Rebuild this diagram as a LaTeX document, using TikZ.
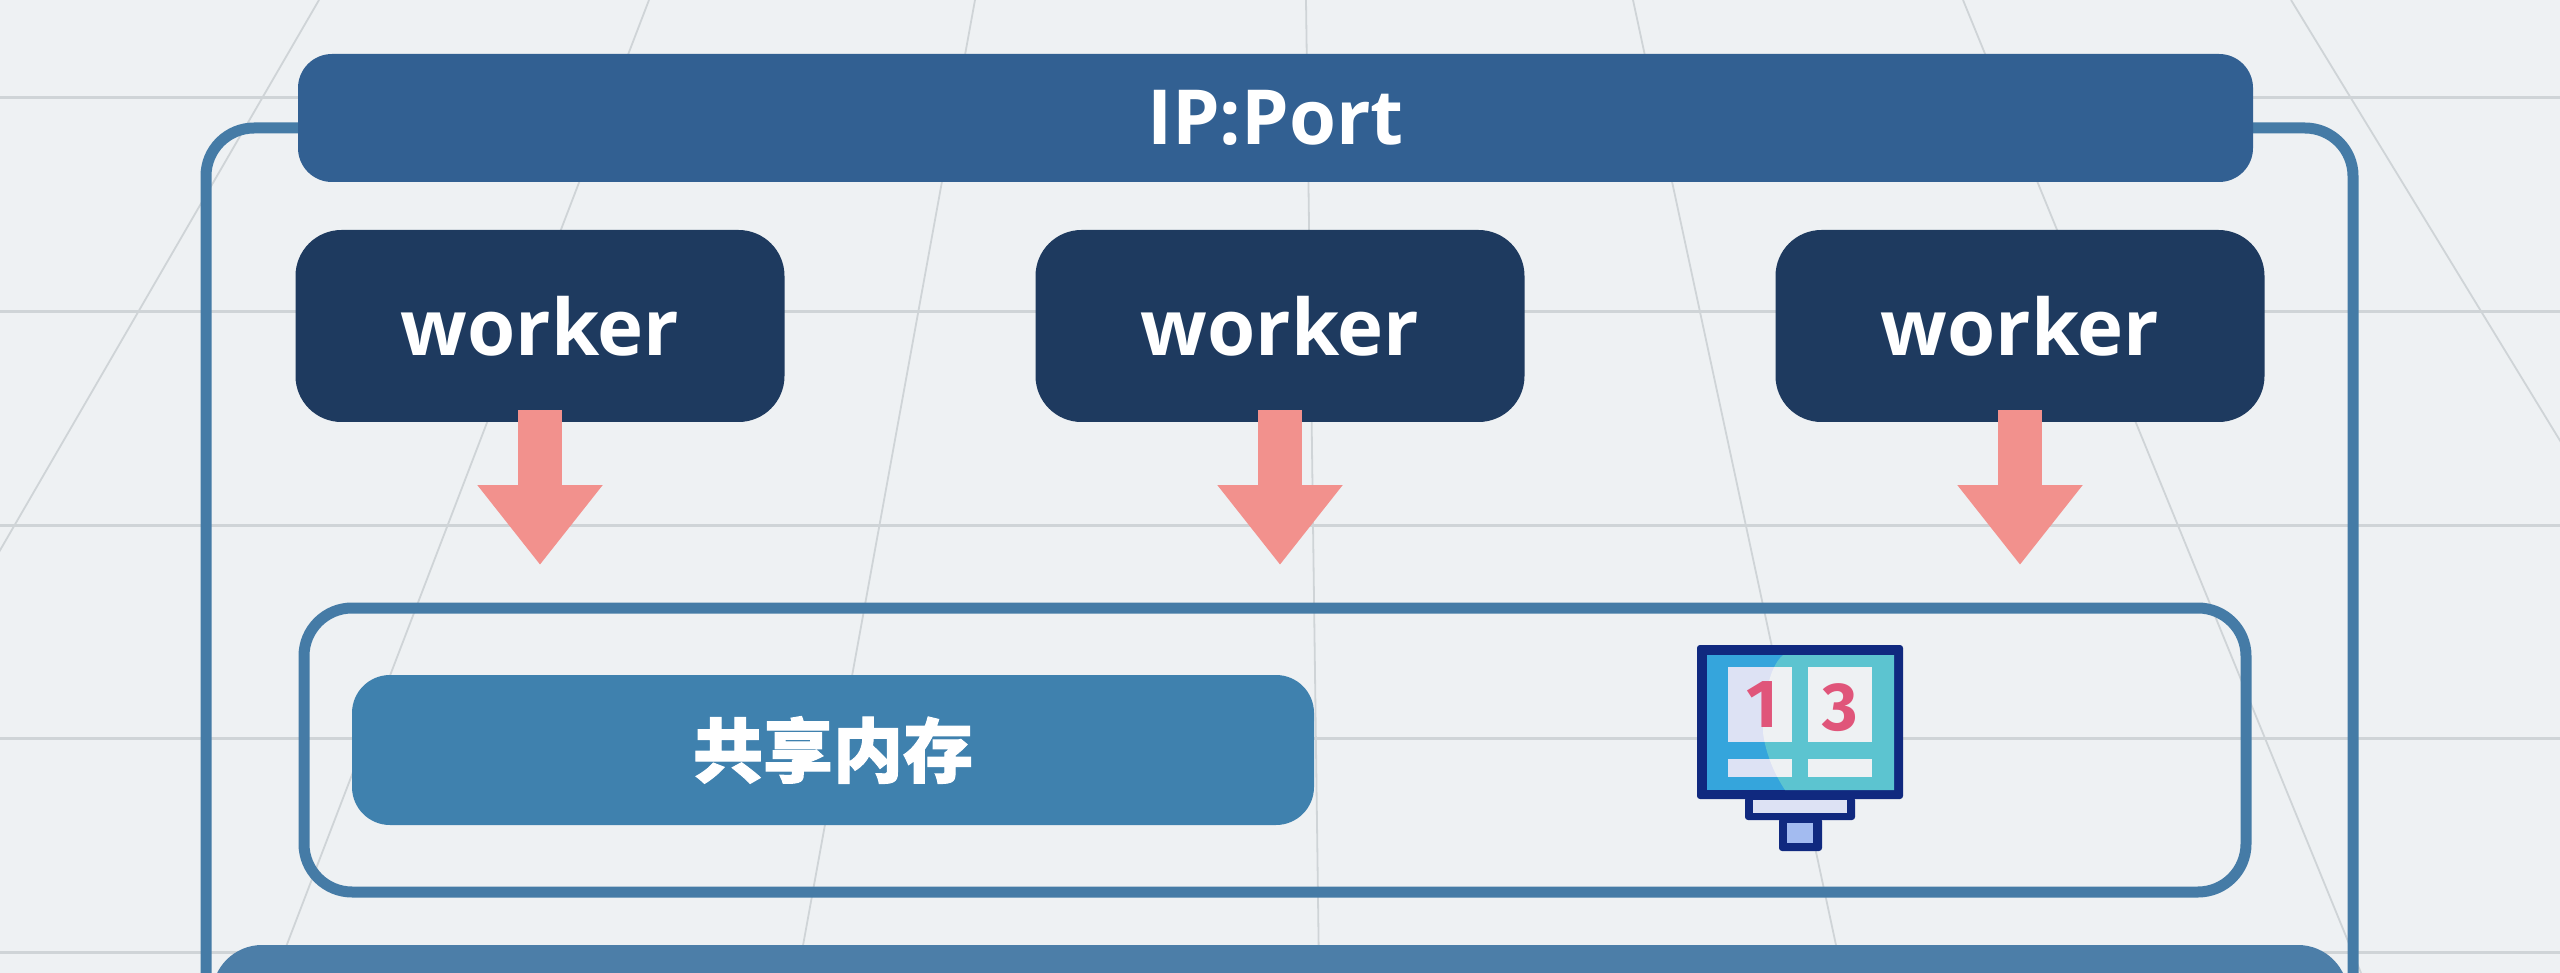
\documentclass[tikz,border=0pt]{standalone}
\usepackage{fontspec}
\usepackage{xcolor}
\setmainfont{Open Sans}
\newfontfamily\cjkfont[BoldFeatures={FakeBold=1.5}]{Noto Sans CJK SC}
\newfontfamily\digitfont{Fira Sans}
\usetikzlibrary{positioning,arrows.meta}
\definecolor{bggrey}{HTML}{EEF1F3}
\definecolor{gridline}{HTML}{CFD4D7}
\definecolor{barblue}{HTML}{326092}
\definecolor{workernavy}{HTML}{1E3A5F}
\definecolor{frameblue}{HTML}{457BA6}
\definecolor{memblue}{HTML}{3F81AE}
\definecolor{bottomblue}{HTML}{4C7EA8}
\definecolor{flowpink}{HTML}{F2918D}
\definecolor{iconnavy}{HTML}{10297F}
\definecolor{iconblue}{HTML}{35A5DC}
\definecolor{iconteal}{HTML}{5CC4D0}
\definecolor{iconred}{HTML}{E0557A}
\definecolor{iconlav}{HTML}{DDE2F4}
\definecolor{iconneck}{HTML}{A3BBF0}

\begin{document}
\begin{tikzpicture}[
    x=1pt, y=-1pt,
    every node/.style={outer sep=0pt, inner sep=0pt},
    ipbar/.style={fill=barblue, rounded corners=34pt, minimum width=1955pt, minimum height=128pt, text=white, font=\bfseries\fontsize{76}{90}\selectfont},
    worker/.style={fill=workernavy, rounded corners=46pt, minimum width=489pt, minimum height=192pt, text=white, font=\bfseries\fontsize{78}{90}\selectfont},
    frame/.style={draw=frameblue, line width=11pt, rounded corners=48pt},
    membox/.style={fill=memblue, rounded corners=38pt, minimum width=962pt, minimum height=150pt, text=white, font=\cjkfont\bfseries\fontsize{70}{80}\selectfont},
    flow/.style={draw=flowpink, line width=44pt, -{Triangle[width=120pt,length=80pt,fill=flowpink]}},
    number/.style={text=iconred, font=\digitfont\bfseries\fontsize{68}{80}\selectfont}
  ]
    \clip (0,0) rectangle (2560,973);
    \fill[bggrey] (0,0) rectangle (2560,973);

    % floor grid
    \foreach \y in {98,312,525,738,952}
      \draw[gridline, line width=3pt] (0,\y) -- (2560,\y);
    \foreach \xtop/\xbot in {319/-245,649/276,975/798,1306/1319,1633/1842,1963/2361,2291/2885}
      \draw[gridline, line width=1.8pt] (\xtop,0) -- (\xbot,973);

    \node[frame, anchor=north, minimum width=2147pt, minimum height=1100pt] (outer) at (1279.5,128) {};
    \node[ipbar] (ip) at (1275.5,118) {\raisebox{-2pt}{IP:Port}};
    \node[worker] (w1) at (540,326) {worker};
    \node[worker, right=251pt of w1] (w2) {worker};
    \node[worker, right=251pt of w2] (w3) {worker};
    \node[frame, minimum width=1942pt, minimum height=284pt] (shm) at (1275,750) {};
    \node[membox] (mem) at (833,750) {共享内存};
    \node[fill=bottomblue, rounded corners=50pt, anchor=north, minimum width=2136pt, minimum height=200pt] (bottom) at (1280,945) {};

    \foreach \w in {w1,w2,w3} {
      \coordinate (\w tip) at (\w.south |- 0,565);
      \draw[flow] ([yshift=12pt]\w.south) -- (\w tip);
    }

    % monitor icon
    \fill[iconnavy, rounded corners=3pt] (1697,645) rectangle (1903,799);
    \fill[iconblue] (1707,655) rectangle (1894,790);
    \fill[iconteal] (1783,655) .. controls (1768,668) and (1764,700) .. (1763,733) .. controls (1766,755) and (1775,775) .. (1785,790) -- (1894,790) -- (1894,655) -- cycle;
    \fill[iconlav] (1728,667) rectangle (1792,742);
    \fill[iconlav] (1728,759) rectangle (1792,777);
    \begin{scope}
      \clip (1783,655) .. controls (1768,668) and (1764,700) .. (1763,733) .. controls (1766,755) and (1775,775) .. (1785,790) -- (1894,790) -- (1894,655) -- cycle;
      \fill[bggrey] (1728,667) rectangle (1792,742);
      \fill[bggrey] (1728,759) rectangle (1792,777);
    \end{scope}
    \fill[bggrey] (1808,667) rectangle (1872,742);
    \fill[bggrey] (1808,759) rectangle (1872,777);
    \fill[iconnavy, rounded corners=3pt] (1745,797) rectangle (1855,820);
    \fill[iconlav] (1753,800) rectangle (1847,813);
    \fill[iconnavy, rounded corners=3pt] (1779,818) rectangle (1822,851);
    \fill[iconneck] (1787,823) rectangle (1813,843);
    \node[number] (one) at (1762,705) {1};
    \node[number] (three) at (1840,708) {3};
\end{tikzpicture}
\end{document}
